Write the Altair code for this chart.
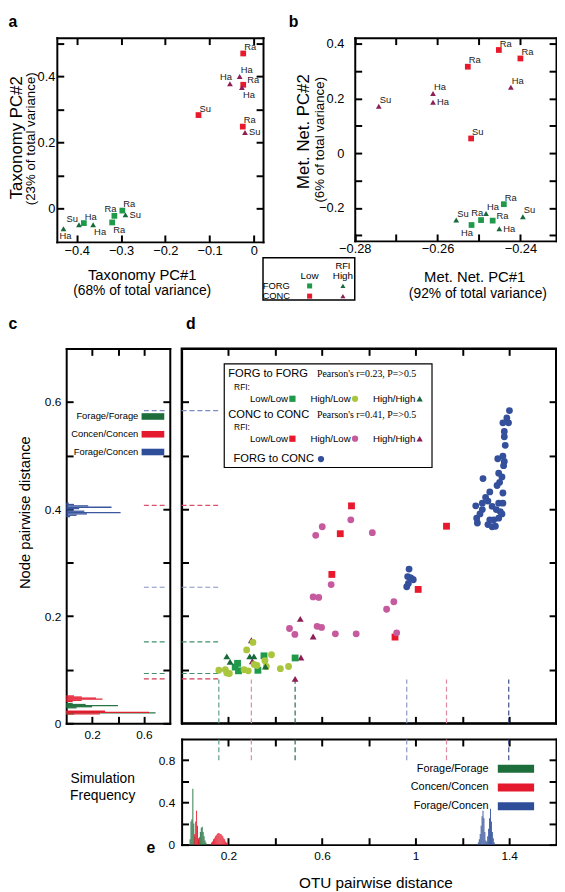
import altair as alt
import pandas as pd

FONT = "Liberation Sans"
SERIF = "Liberation Serif"

# ---------------- colours ----------------
C_FLL = "#1f9a4b"; C_FHL = "#a9c63c"; C_FHH = "#17693a"
C_CLL = "#e8192c"; C_CHL = "#c65a9e"; C_CHH = "#8e1f56"
C_F2C = "#34509c"

# ---------------- panel a ----------------
a_x = [-0.024, -0.032, -0.054, -0.024, -0.027, -0.125, -0.025, -0.020,
       -0.297, -0.290, -0.315, -0.320, -0.384, -0.395, -0.363, -0.430]
a_y = [0.470, 0.400, 0.378, 0.375, 0.367, 0.283, 0.248, 0.230,
       -0.007, -0.020, -0.023, -0.043, -0.045, -0.050, -0.050, -0.062]
a_lab = ["Ra", "Ha", "Ha", "Ra", "Ha", "Su", "Ra", "Su",
         "Ra", "Su", "Ra", "Ra", "Ha", "Su", "Ha", "Ha"]
a_diet = ["CONC"] * 8 + ["FORG"] * 8
a_rfi = ["Low", "High", "High", "Low", "High", "Low", "Low", "High",
         "Low", "High", "Low", "Low", "Low", "High", "High", "High"]
a_anchor = ["ur", "ur", "u", "ru", "dr", "ur", "ur", "r",
            "ur", "r", "u", "dr", "ur", "l", "dr", "dc"]

# ---------------- panel b ----------------
b_x = [-0.2452, -0.2400, -0.2527, -0.2423, -0.2611, -0.2611, -0.2742, -0.2519,
       -0.2440, -0.2394, -0.2483, -0.2495, -0.2467, -0.2555, -0.2518, -0.2451]
b_y = [0.377, 0.346, 0.316, 0.241, 0.218, 0.186, 0.172, 0.054,
       -0.186, -0.232, -0.220, -0.244, -0.246, -0.244, -0.262, -0.276]
b_lab = ["Ra", "Ra", "Ra", "Ha", "Ha", "Ha", "Su", "Su",
         "Ra", "Su", "Ha", "Ra", "Ra", "Su", "Ha", "Ha"]
b_diet = ["CONC"] * 8 + ["FORG"] * 8
b_rfi = ["Low", "Low", "Low", "High", "High", "High", "High", "Low",
         "Low", "High", "High", "Low", "Low", "High", "Low", "High"]
b_anchor = ["ur", "ur", "ur", "ur", "ur", "r", "ur", "ur",
            "ur", "ur", "ur", "u", "ru", "ur", "d", "r"]

GRP_AB = ["FORG Low", "FORG High", "CONC Low", "CONC High"]
COL_AB = [C_FLL, C_FHH, C_CLL, C_CHH]
SHP_AB = ["square", "triangle-up", "square", "triangle-up"]
LEG_DIET = ["FORG", "FORG", "CONC", "CONC"]
LEG_RFI = ["Low", "High", "Low", "High"]

# ---------------- panel c (simulated node distances) ----------------
HIST_GRP = ["Forage/Forage", "Concen/Concen", "Forage/Concen"]
HIST_COL = ["#1d6e3b", "#e5192d", "#2f4e99"]
c_ff_y = [0.0175, 0.0195, 0.0215, 0.029, 0.031, 0.033, 0.035, 0.037]
c_ff_f = [0.06, 0.69, 0.26, 0.08, 0.20, 0.40, 0.15, 0.05]
c_cc_y = [0.0175, 0.0205, 0.0225, 0.041, 0.043, 0.045, 0.047, 0.049, 0.051]
c_cc_f = [0.26, 0.64, 0.30, 0.05, 0.12, 0.28, 0.23, 0.12, 0.06]
c_fc_y = [0.386, 0.3885, 0.391, 0.3935, 0.396, 0.3985, 0.401, 0.4035, 0.406, 0.4085, 0.411]
c_fc_f = [0.03, 0.08, 0.16, 0.42, 0.14, 0.05, 0.10, 0.35, 0.17, 0.06, 0.02]

# ---------------- panel d ----------------
d_fll_x = [0.239, 0.229, 0.243, 0.326, 0.352, 0.485]
d_fll_y = [0.112, 0.105, 0.098, 0.099, 0.126, 0.122]
d_fhl_x = [0.159, 0.187, 0.193, 0.204, 0.267, 0.285, 0.278, 0.305, 0.310, 0.322,
           0.356, 0.362, 0.384, 0.422, 0.457]
d_fhl_y = [0.099, 0.100, 0.094, 0.093, 0.100, 0.098, 0.137, 0.151, 0.110, 0.108,
           0.117, 0.106, 0.128, 0.102, 0.106]
d_fhh_x = [0.193, 0.207, 0.291, 0.309, 0.358]
d_fhh_y = [0.125, 0.115, 0.125, 0.125, 0.106]
d_cll_x = [0.726, 0.678, 1.132, 0.642, 1.011, 0.912]
d_cll_y = [0.406, 0.354, 0.368, 0.278, 0.250, 0.161]
d_chl_x = [0.723, 0.601, 0.573, 0.815, 0.639, 0.562, 0.586, 0.876, 0.907, 0.461,
           0.484, 0.579, 0.598, 0.657, 0.746, 0.919]
d_chl_y = [0.380, 0.367, 0.351, 0.356, 0.259, 0.236, 0.235, 0.213, 0.227, 0.177,
           0.166, 0.181, 0.179, 0.167, 0.167, 0.169]
d_chh_x = [0.507, 0.562, 0.298, 0.302, 0.510, 0.485]
d_chh_y = [0.195, 0.162, 0.155, 0.116, 0.123, 0.083]
d_f2c_x = [1.401, 1.390, 1.373, 1.397, 1.379, 1.379, 1.383, 1.373, 1.351, 1.379,
           1.376, 1.355, 1.369, 1.288, 1.359, 1.348, 1.373, 1.317, 1.299, 1.309,
           1.285, 1.355, 1.373, 1.257, 1.327, 1.345, 1.285, 1.362, 1.275, 1.369,
           1.355, 1.261, 1.317, 1.334, 1.264, 1.309, 1.327, 1.341,
           0.972, 0.966, 0.983, 0.990, 0.969, 0.962, 0.977]
d_f2c_y = [0.584, 0.570, 0.561, 0.561, 0.545, 0.535, 0.519, 0.499, 0.494, 0.489,
           0.481, 0.467, 0.460, 0.457, 0.450, 0.444, 0.430, 0.432, 0.422, 0.415,
           0.411, 0.411, 0.411, 0.406, 0.405, 0.399, 0.399, 0.395, 0.391, 0.391,
           0.383, 0.383, 0.380, 0.380, 0.374, 0.371, 0.367, 0.368,
           0.288, 0.274, 0.270, 0.268, 0.261, 0.255, 0.272]
PAIR = ["Low/Low", "High/Low", "High/High"]
PAIR_SHP = ["square", "circle", "triangle-up"]

# observed thresholds (dashed guides)
hd_y = [0.584, 0.407, 0.254, 0.152, 0.093, 0.083]
hd_col = ["#7d8bc2", "#d9506a", "#8591c4", "#3f8f6a", "#3f8f6a", "#cf3a55"]
vd_x = [0.159, 0.298, 0.485, 0.962, 1.132, 1.398]
vd_col = ["#5e9e86", "#e08aa0", "#2b6a4a", "#8d97c4", "#e08aa0", "#3f4e8c"]

# ---------------- panel e (simulated OTU distances) ----------------
e_ff_x = [0.036, 0.040, 0.044, 0.048, 0.052, 0.056, 0.072, 0.076, 0.080, 0.084,
          0.088, 0.092, 0.096, 0.100, 0.104]
e_ff_f = [0.05, 0.22, 0.24, 0.53, 0.20, 0.08, 0.04, 0.07, 0.12, 0.16,
          0.17, 0.12, 0.08, 0.04, 0.02]
e_cc_x = [0.056, 0.060, 0.064, 0.068, 0.072, 0.128, 0.132, 0.136, 0.140, 0.144,
          0.148, 0.152, 0.156, 0.160, 0.164, 0.168, 0.172, 0.176, 0.180, 0.184,
          0.188, 0.192, 0.196]
e_cc_f = [0.10, 0.22, 0.32, 0.18, 0.06, 0.02, 0.03, 0.05, 0.06, 0.08,
          0.09, 0.10, 0.11, 0.11, 0.10, 0.10, 0.09, 0.08, 0.06, 0.05,
          0.03, 0.02, 0.01]
e_fc_x = [1.268, 1.272, 1.276, 1.280, 1.284, 1.288, 1.292, 1.296, 1.300, 1.304,
          1.308, 1.312, 1.316, 1.320, 1.324, 1.328, 1.332, 1.336]
e_fc_f = [0.02, 0.05, 0.10, 0.18, 0.27, 0.32, 0.25, 0.12, 0.04, 0.03,
          0.08, 0.15, 0.25, 0.34, 0.22, 0.12, 0.06, 0.02]

# tick values
A_XT = [-0.4, -0.3, -0.2, -0.1, 0.0]
A_YT = [0.0, 0.1, 0.2, 0.3, 0.4, 0.5]
B_XT = [-0.28, -0.27, -0.26, -0.25, -0.24]
B_YT = [-0.3, -0.2, -0.1, 0.0, 0.1, 0.2, 0.3, 0.4]
C_XT = [0.2, 0.4, 0.6]
C_YT = [0.0, 0.1, 0.2, 0.3, 0.4, 0.5, 0.6]
D_XT = [0.2, 0.4, 0.6, 0.8, 1.0, 1.2, 1.4]
D_YT = [0.1, 0.2, 0.3, 0.4, 0.5, 0.6]
E_YT = [0.0, 0.2, 0.4, 0.6, 0.8]

EXP_ALL1 = "abs(datum.value) < 1e-9 ? '0' : format(datum.value, '.1f')"
EXP_EVEN1 = ("abs(datum.value) < 1e-9 ? '0' : (abs(datum.value*5 - round(datum.value*5)) < 1e-6 "
             "? format(datum.value, '.1f') : '')")
EXP_B_X = "abs(datum.value*50 - round(datum.value*50)) < 1e-6 ? format(datum.value, '.2f') : ''"
EXP_C_X = "abs(datum.value - 0.4) < 1e-6 ? '' : format(datum.value, '.1f')"
EXP_E_X = ("abs((datum.value-0.2)*2.5 - round((datum.value-0.2)*2.5)) < 1e-6 ? "
           "(abs(datum.value-1) < 1e-6 ? '1' : format(datum.value, '.1f')) : ''")
EXP_E_Y = ("abs(datum.value*2.5 - round(datum.value*2.5)) < 1e-6 ? "
           "(abs(datum.value) < 1e-9 ? '0' : format(datum.value, '.1f')) : ''")

# ---------------- layout (pixels relative to panel d's plot area) ----------------
W, H = 379.5, 380


def ex(v):
    return alt.ExprRef(expr=str(v))


def sc(dom, rng, **kw):
    return alt.Scale(domain=dom, range=rng, nice=False, zero=False, **kw)


xsA = sc([-0.445, 0.0207], [-126.5, 82.5]); ysA = sc([-0.102, 0.518], [-108, -315])
xsB = sc([-0.28, -0.2314], [175.5, 379.5]); ysB = sc([-0.32, 0.422], [-109, -315])
xsC = sc([0, 0.8], [-117, -12])
xsD = sc([0, 1.6], [0, W]); ysD = sc([0, 0.7], [H, 0])
ysE = sc([0, 1.0], [503, 396])


def ax(orient, values, offset, labels=False, expr=None, lsize=13, lpad=11, title=None,
       tsize=15, tx=None, ty=None, tangle=None, tbase="middle", tline=None):
    kw = dict(orient=orient, values=values, offset=offset, tickSize=ex(-7), tickWidth=2,
              tickColor="black", domain=True, domainColor="black", domainWidth=2,
              domainCap="square", grid=False, labels=labels, title=title)
    if labels:
        kw.update(labelFontSize=lsize, labelColor="black", labelPadding=lpad, labelFont=FONT,
                  labelFlush=False, labelOverlap=False, labelBound=False)
        if expr:
            kw["labelExpr"] = expr
    if title is not None:
        kw.update(titleFontSize=tsize, titleFont=FONT, titleFontWeight="normal",
                  titleColor="black", titleX=tx, titleY=ty, titleAlign="center",
                  titleBaseline=tbase)
        if tangle is not None:
            kw["titleAngle"] = tangle
        if tline is not None:
            kw["titleLineHeight"] = tline
    return alt.Axis(**kw)


def letter(t, x, y):
    return alt.Chart(pd.DataFrame({"t": [t]})).mark_text(
        align="left", baseline="alphabetic", fontSize=16, fontWeight="bold",
        font=FONT, color="black").encode(x=alt.value(x), y=alt.value(y), text="t:N")


def free_text(t, x, y, size, font=FONT):
    return alt.Chart(pd.DataFrame({"t": [t]})).mark_text(
        align="left", baseline="middle", fontSize=size, font=font, color="black"
    ).encode(x=alt.value(x), y=alt.value(y), text="t:N")


def frame_box(x0, x1, y0, y1, sw, fill=None):
    mk = dict(stroke="black", strokeWidth=sw)
    if fill:
        mk["fill"] = fill
    else:
        mk["fillOpacity"] = 0
    return alt.Chart(pd.DataFrame({"v": [0]})).mark_rect(**mk).encode(
        x=alt.value(x0), x2=alt.value(x1), y=alt.value(y0), y2=alt.value(y1))


def lit_color():
    return alt.Color("col:N", scale=None, legend=None)


ANCH = {
    "ur": dict(align="left", baseline="bottom", dx=1, dy=-1.5),
    "u": dict(align="center", baseline="bottom", dx=-4, dy=-2),
    "r": dict(align="left", baseline="middle", dx=4, dy=0),
    "ru": dict(align="left", baseline="middle", dx=4, dy=-4.5),
    "dr": dict(align="left", baseline="top", dx=1, dy=2.5),
    "d": dict(align="center", baseline="top", dx=-4.5, dy=3),
    "dc": dict(align="center", baseline="top", dx=2, dy=2),
    "l": dict(align="right", baseline="bottom", dx=-1, dy=-1),
}


def scatter(xs, ys, labs, diets, rfis, anchors, xsc, ysc, axb, axl, axt, axr):
    df = pd.DataFrame(dict(x=xs, y=ys, lab=labs,
                           grp=[d + " " + r for d, r in zip(diets, rfis)], anchor=anchors))
    base = alt.Chart(df)
    pts = base.mark_point(filled=True, size=34, opacity=1, strokeWidth=0).encode(
        x=alt.X("x:Q", scale=xsc, axis=axb), y=alt.Y("y:Q", scale=ysc, axis=axl),
        color=alt.Color("grp:N", scale=alt.Scale(domain=GRP_AB, range=COL_AB), legend=None),
        shape=alt.Shape("grp:N", scale=alt.Scale(domain=GRP_AB, range=SHP_AB), legend=None))
    mirror = base.mark_point(opacity=0).encode(
        x=alt.X("x:Q", scale=xsc, axis=axt), y=alt.Y("y:Q", scale=ysc, axis=axr))
    out = [pts, mirror]
    for k, st in ANCH.items():
        if k not in anchors:
            continue
        out.append(base.transform_filter(alt.datum.anchor == k).mark_text(
            fontSize=9.5, font=FONT, color="#222", **st).encode(
            x=alt.X("x:Q", scale=xsc, axis=None), y=alt.Y("y:Q", scale=ysc, axis=None),
            text="lab:N"))
    return out


# ---------------- panel a / b ----------------
layA = scatter(
    a_x, a_y, a_lab, a_diet, a_rfi, a_anchor, xsA, ysA,
    ax("bottom", A_XT, -488, True, EXP_ALL1, 13, 10, "Taxonomy PC#1", 15, -40.5, 32.7),
    ax("left", A_YT, 126.5, True, EXP_EVEN1, 13, 9, "Taxonomy PC#2", 17, -40.5, -214),
    ax("top", A_XT, 315, title="(68% of total variance)", tsize=14, tx=-40.5, ty=256.5),
    ax("right", A_YT, -297, title="(23% of total variance)", tsize=13.5, tx=-235.5,
       ty=-213, tangle=270))

layB = scatter(
    b_x, b_y, b_lab, b_diet, b_rfi, b_anchor, xsB, ysB,
    ax("bottom", B_XT, -489, True, EXP_B_X, 13, 9, "Met. Net. PC#1", 15, 296.5, 36),
    ax("left", B_YT, -175.5, True, EXP_EVEN1, 13, 18, "Met. Net. PC#2", 17, -52.3, -220.3),
    ax("top", B_XT, 315, title="(92% of total variance)", tsize=14, tx=299.8, ty=259.5),
    ax("right", B_YT, 0, title="(6% of total variance)", tsize=13.5, tx=-239.7, ty=-212,
       tangle=270))

# legend box for a/b
legdf = pd.DataFrame(dict(diet=LEG_DIET, rfi=LEG_RFI))
legdf["grp"] = legdf["diet"] + " " + legdf["rfi"]
xsL = alt.Scale(type="point", domain=["row", "Low", "High"], range=[96, 163.5], padding=0)
ysL = alt.Scale(type="point", domain=["rfi", "hdr", "FORG", "CONC"], range=[-84, -53], padding=0)
leg_sym = alt.Chart(legdf).mark_point(filled=True, size=26, opacity=1, strokeWidth=0).encode(
    x=alt.X("rfi:N", scale=xsL, axis=None), y=alt.Y("diet:N", scale=ysL, axis=None),
    color=alt.Color("grp:N", scale=alt.Scale(domain=GRP_AB, range=COL_AB), legend=None),
    shape=alt.Shape("grp:N", scale=alt.Scale(domain=GRP_AB, range=SHP_AB), legend=None))
leg_row = alt.Chart(pd.DataFrame(dict(c=["row", "row"], r=["FORG", "CONC"]))).mark_text(
    fontSize=9.5, font=FONT, color="black").encode(
    x=alt.X("c:N", scale=xsL, axis=None), y=alt.Y("r:N", scale=ysL, axis=None), text="r:N")
leg_hdr = alt.Chart(pd.DataFrame(dict(c=["Low", "High"], r=["hdr", "hdr"]))).mark_text(
    fontSize=10, font=FONT, color="black").encode(
    x=alt.X("c:N", scale=xsL, axis=None), y=alt.Y("r:N", scale=ysL, axis=None), text="c:N")
leg_rfi = alt.Chart(pd.DataFrame(dict(c=["High"], r=["rfi"], t=["RFI"]))).mark_text(
    fontSize=9.5, font=FONT, color="black").encode(
    x=alt.X("c:N", scale=xsL, axis=None), y=alt.Y("r:N", scale=ysL, axis=None), text="t:N")
layL = [frame_box(82.5, 175.5, -92, -49, 1.5, "white"), leg_sym, leg_row, leg_hdr, leg_rfi]

# ---------------- panel c ----------------
dfC = pd.concat([
    pd.DataFrame(dict(grp=HIST_GRP[2], y=c_fc_y, f=c_fc_f)),
    pd.DataFrame(dict(grp=HIST_GRP[0], y=c_ff_y, f=c_ff_f)),
    pd.DataFrame(dict(grp=HIST_GRP[1], y=c_cc_y, f=c_cc_f)),
], ignore_index=True)
legC = alt.Legend(orient="none", legendX=-40.6, legendY=57.5, title=None,
                  symbolType="M-1,-0.29H1V0.29H-1Z", symbolSize=529, symbolStrokeWidth=0,
                  symbolOpacity=1, labelFontSize=9.5, labelFont=FONT, labelColor="black",
                  labelAlign="right", labelOffset=ex(-26.3), padding=0)
c_bars = alt.Chart(dfC).transform_calculate(
    lo="datum.y - 0.00125", hi="datum.y + 0.00125").mark_rect(opacity=0.95).encode(
    x=alt.X("f:Q", scale=xsC, axis=ax("bottom", C_XT, 0, True, EXP_C_X, 12, 13,
                                       ["Simulation", "Frequency"], 14, -80.5, 49,
                                       tbase="top", tline=17)),
    x2=alt.X2Datum(0),
    y=alt.Y("lo:Q", scale=ysD, axis=ax("left", C_YT, 117, True, EXP_EVEN1, 12, 12.5,
                                       "Node pairwise distance", 15, -42.5, 166)),
    y2="hi:Q",
    color=alt.Color("grp:N", scale=alt.Scale(domain=HIST_GRP, range=HIST_COL), legend=legC))
c_mirror = alt.Chart(dfC).mark_point(opacity=0).encode(
    x=alt.X("f:Q", scale=xsC, axis=ax("top", C_XT, 0)),
    y=alt.Y("y:Q", scale=ysD, axis=ax("right", C_YT, -391.5)))
dfH = pd.DataFrame(dict(y=hd_y, col=hd_col))
c_dash = alt.Chart(dfH).mark_rule(strokeDash=[5, 3], strokeWidth=1.2).encode(
    x=alt.XDatum(0.6, scale=xsC, axis=None), x2=alt.X2Datum(0.765),
    y=alt.Y("y:Q", scale=ysD, axis=None), color=lit_color())
layC = [c_bars, c_mirror, c_dash]

# ---------------- panel d ----------------
dfF = pd.concat([
    pd.DataFrame(dict(x=d_fll_x, y=d_fll_y, pair=PAIR[0])),
    pd.DataFrame(dict(x=d_fhl_x, y=d_fhl_y, pair=PAIR[1])),
    pd.DataFrame(dict(x=d_fhh_x, y=d_fhh_y, pair=PAIR[2])),
], ignore_index=True)
dfCC = pd.concat([
    pd.DataFrame(dict(x=d_cll_x, y=d_cll_y, pair=PAIR[0])),
    pd.DataFrame(dict(x=d_chl_x, y=d_chl_y, pair=PAIR[1])),
    pd.DataFrame(dict(x=d_chh_x, y=d_chh_y, pair=PAIR[2])),
], ignore_index=True)
dfX = pd.DataFrame(dict(x=d_f2c_x, y=d_f2c_y, pair="FORG to CONC"))


def d_legend(x, y, lsize, loff, cols):
    return alt.Legend(orient="none", legendX=x, legendY=y, title=None, columns=cols,
                      symbolSize=40, symbolStrokeWidth=0, symbolOpacity=1,
                      labelFontSize=lsize, labelFont=FONT, labelColor="black",
                      labelAlign="right", labelOffset=ex(loff), columnPadding=13.5,
                      rowPadding=0, padding=0)


def d_points(df, cols, shapes, leg, xaxis=None, yaxis=None):
    dom = list(dict.fromkeys(df["pair"]))
    return alt.Chart(df).mark_point(filled=True, size=48, opacity=1, strokeWidth=0).encode(
        x=alt.X("x:Q", scale=xsD, axis=xaxis), y=alt.Y("y:Q", scale=ysD, axis=yaxis),
        color=alt.Color("pair:N", scale=alt.Scale(domain=dom, range=cols), legend=leg),
        shape=alt.Shape("pair:N", scale=alt.Scale(domain=dom, range=shapes), legend=leg))


L1 = d_legend(107.4, 46, 9.8, -9.3, 3)
L2 = d_legend(107.4, 86.5, 9.8, -9.3, 3)
L3 = d_legend(135.6, 106.5, 11.3, -12.8, 1)
d_f2c = d_points(dfX, [C_F2C], ["circle"], L3, ax("top", D_XT, 0), ax("right", D_YT, 0))
d_conc = d_points(dfCC, [C_CLL, C_CHL, C_CHH], PAIR_SHP, L2)
d_forg = d_points(dfF, [C_FLL, C_FHL, C_FHH], PAIR_SHP, L1,
                  ax("bottom", D_XT, 0), ax("left", D_YT, 0))
d_hdash = alt.Chart(dfH).mark_rule(strokeDash=[5, 3], strokeWidth=1.2).encode(
    x=alt.XDatum(0, scale=xsD, axis=None), x2=alt.X2Datum(0.16),
    y=alt.Y("y:Q", scale=ysD, axis=None), color=lit_color())
dfV = pd.DataFrame(dict(x=vd_x, col=vd_col))
d_vdash = alt.Chart(dfV).mark_rule(strokeDash=[5, 3], strokeWidth=1.2).encode(
    x=alt.X("x:Q", scale=xsD, axis=None), y=alt.YDatum(0, scale=ysD, axis=None),
    y2=alt.Y2Datum(0.082), color=lit_color())
d_txt = [
    free_text("FORG to FORG", 47.2, 26.3, 11.3),
    free_text("Pearson's r=0.23, P=>0.5", 137.2, 26.3, 10, SERIF),
    free_text("RFI:", 53.2, 39, 8.5),
    free_text("CONC to CONC", 47.2, 68, 11.3),
    free_text("Pearson's r=0.41, P=>0.5", 137.2, 68, 10, SERIF),
    free_text("RFI:", 53.2, 79.7, 8.5),
]
layD = [d_hdash, d_vdash, d_f2c, d_conc, d_forg,
        frame_box(43.2, 253.8, 15.7, 120.7, 1.2, "white"), *d_txt]

# ---------------- panel e ----------------
dfE = pd.concat([
    pd.DataFrame(dict(grp=HIST_GRP[0], x=e_ff_x, f=e_ff_f)),
    pd.DataFrame(dict(grp=HIST_GRP[1], x=e_cc_x, f=e_cc_f)),
    pd.DataFrame(dict(grp=HIST_GRP[2], x=e_fc_x, f=e_fc_f)),
], ignore_index=True)
legE = alt.Legend(orient="none", legendX=327.4, legendY=414.6, title=None,
                  symbolType="M-1.6,-0.36H1.6V0.36H-1.6Z", symbolSize=529, symbolStrokeWidth=0,
                  symbolOpacity=1, labelFontSize=11, labelFont=FONT, labelColor="black",
                  labelAlign="right", labelOffset=ex(-39.3), padding=0)
e_bars = alt.Chart(dfE).transform_calculate(
    lo="datum.x - 0.002", hi="datum.x + 0.002").mark_rect(opacity=0.95).encode(
    x=alt.X("lo:Q", scale=xsD, axis=ax("bottom", D_XT, 123, True, EXP_E_X, 12, 13,
                                       "OTU pairwise distance", 15.5, 196.5, 38)),
    x2="hi:Q",
    y=alt.Y("f:Q", scale=ysE, axis=ax("left", E_YT, 0, True, EXP_E_Y, 12, 14)),
    y2=alt.Y2Datum(0),
    color=alt.Color("grp:N", scale=alt.Scale(domain=HIST_GRP, range=HIST_COL), legend=legE))
e_mirror = alt.Chart(dfE).mark_point(opacity=0).encode(
    x=alt.X("x:Q", scale=xsD, axis=ax("top", D_XT, -396)),
    y=alt.Y("f:Q", scale=ysE, axis=ax("right", E_YT, 0)))
e_vdash = alt.Chart(dfV).mark_rule(strokeDash=[5, 3], strokeWidth=1.2).encode(
    x=alt.X("x:Q", scale=xsD, axis=None), y=alt.YDatum(0.8, scale=ysE, axis=None),
    y2=alt.Y2Datum(1.0), color=lit_color())
layE = [e_bars, e_mirror, e_vdash]

letters = [letter("a", -175.5, -326), letter("b", 108.5, -326), letter("c", -175.5, -20),
           letter("d", 4.5, -20), letter("e", -35.5, 511)]

chart = alt.layer(*layA, *layB, *layL, *layC, *layD, *layE, *letters).resolve_scale(
    x="independent", y="independent", color="independent", shape="independent"
).resolve_axis(x="independent", y="independent").properties(
    width=W, height=H, padding=0).configure(font=FONT).configure_view(
    stroke="black", strokeWidth=2)

chart.save("out.html", embed_options={"renderer": "svg", "actions": False})
